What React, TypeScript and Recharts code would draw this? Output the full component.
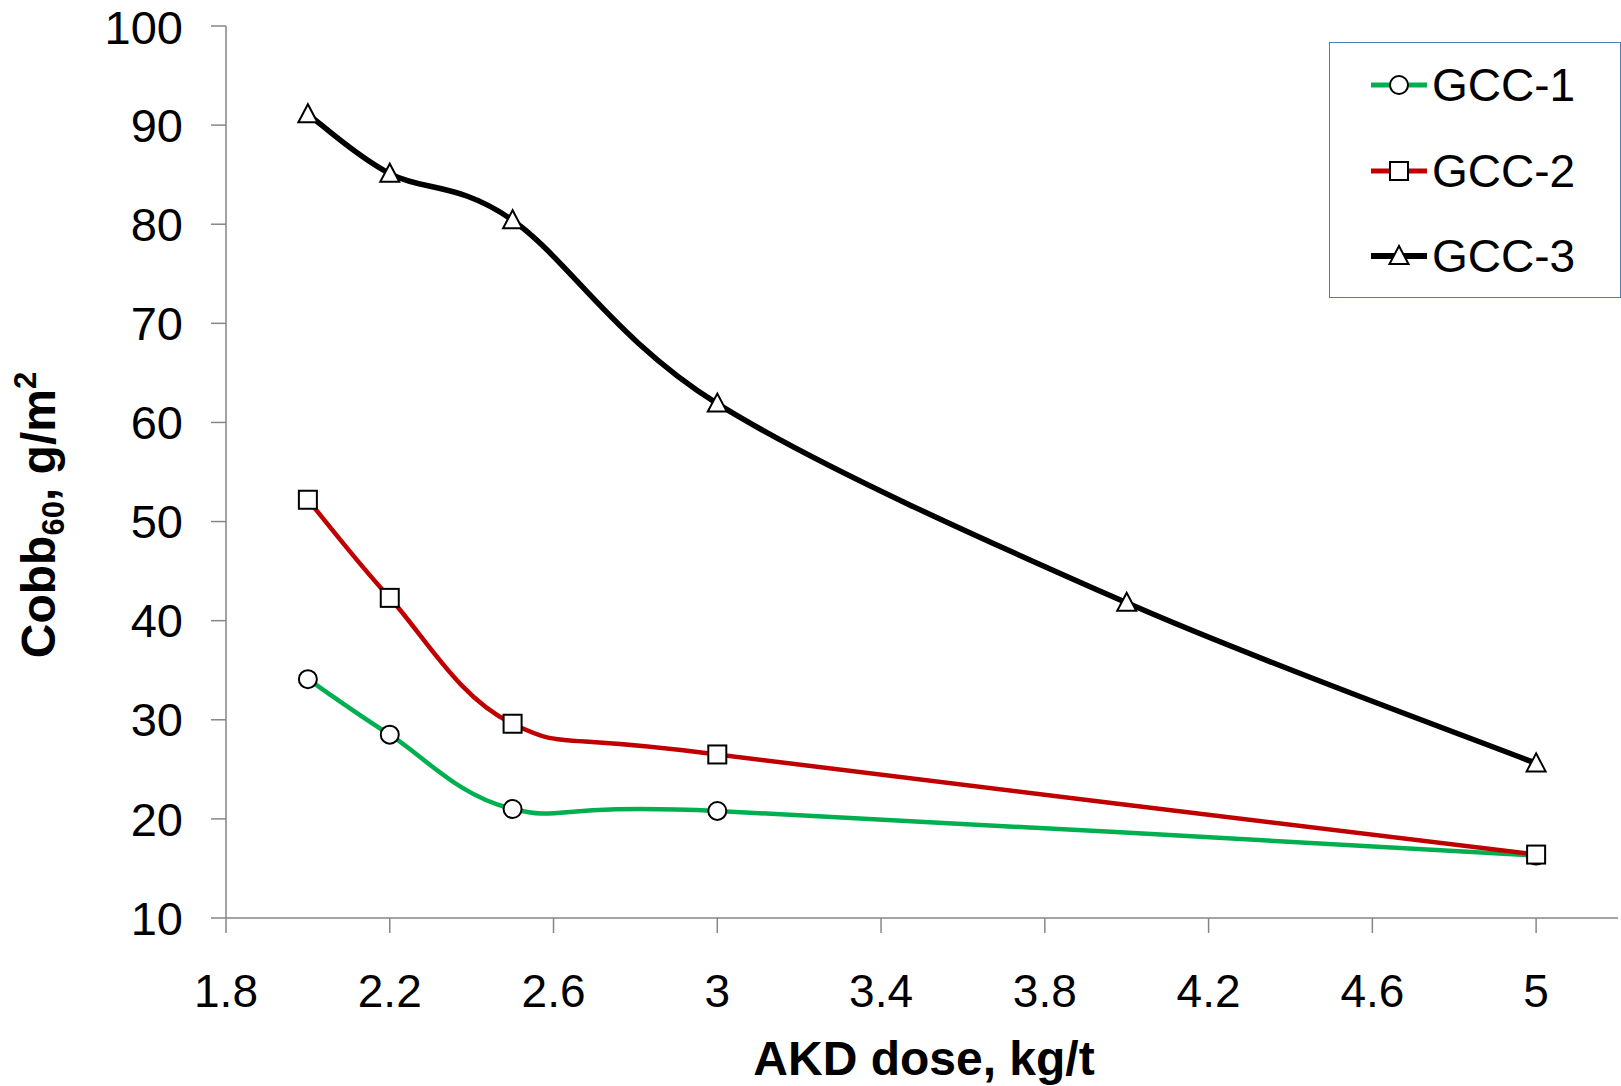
import React from "react";
import { LineChart, Line, XAxis, YAxis, Legend } from "recharts";

// values (Cobb60 vs AKD dose)
const gcc1Dose = [2, 2.2, 2.5, 3, 5];
const gcc1Cobb = [34.1, 28.5, 21.0, 20.8, 16.3];
const gcc2Dose = [2, 2.2, 2.5, 3, 5];
const gcc2Cobb = [52.2, 42.3, 29.6, 26.5, 16.4];
const gcc3Dose = [2, 2.2, 2.5, 3, 4, 5];
const gcc3Cobb = [91.1, 85.1, 80.4, 61.9, 41.8, 25.6];

const seriesNames = ["GCC-1", "GCC-2", "GCC-3"];
const xTicks = [1.8, 2.2, 2.6, 3, 3.4, 3.8, 4.2, 4.6, 5];
const yTicks = [10, 20, 30, 40, 50, 60, 70, 80, 90, 100];

const FONT = '"Liberation Sans", Arial, sans-serif';
const AXIS_GRAY = "#868686";

const toPoints = (xs: number[], ys: number[]) => xs.map((x, i) => ({ x, y: ys[i] }));

const series = [
  { name: seriesNames[0], data: toPoints(gcc1Dose, gcc1Cobb), color: "#00B050", width: 4.5, shape: "circle" },
  { name: seriesNames[1], data: toPoints(gcc2Dose, gcc2Cobb), color: "#C00000", width: 4.5, shape: "square" },
  { name: seriesNames[2], data: toPoints(gcc3Dose, gcc3Cobb), color: "#000000", width: 5.5, shape: "triangle" },
];

// Excel-style smoothed line (uniform Catmull-Rom as cubic beziers)
const excelSmooth = (context: any) => {
  let pts: number[][] = [];
  return {
    areaStart() {},
    areaEnd() {},
    lineStart() {
      pts = [];
    },
    lineEnd() {
      const n = pts.length;
      if (!n) return;
      context.moveTo(pts[0][0], pts[0][1]);
      for (let i = 0; i < n - 1; i++) {
        const p0 = pts[Math.max(i - 1, 0)];
        const p1 = pts[i];
        const p2 = pts[i + 1];
        const p3 = pts[Math.min(i + 2, n - 1)];
        context.bezierCurveTo(
          p1[0] + (p2[0] - p0[0]) / 6,
          p1[1] + (p2[1] - p0[1]) / 6,
          p2[0] - (p3[0] - p1[0]) / 6,
          p2[1] - (p3[1] - p1[1]) / 6,
          p2[0],
          p2[1]
        );
      }
    },
    point(x: number, y: number) {
      pts.push([+x, +y]);
    },
  };
};

const Marker = ({ shape, cx, cy }: { shape: string; cx: number; cy: number }) => {
  if (shape === "circle")
    return <circle cx={cx} cy={cy} r={9} fill="#fff" stroke="#000" strokeWidth={2} />;
  if (shape === "square")
    return <rect x={cx - 9} y={cy - 9} width={18} height={18} fill="#fff" stroke="#000" strokeWidth={2} />;
  return (
    <polygon
      points={`${cx},${cy - 10} ${cx - 9.5},${cy + 8} ${cx + 9.5},${cy + 8}`}
      fill="#fff"
      stroke="#000"
      strokeWidth={2}
    />
  );
};

const YTitle = () => (
  <text
    transform="translate(55, 515) rotate(-90)"
    textAnchor="middle"
    fontFamily={FONT}
    fontWeight="bold"
    fontSize={48}
    fill="#000"
  >
    Cobb
    <tspan fontSize={31} dy={9}>60</tspan>
    <tspan dy={-9}>, g/m</tspan>
    <tspan fontSize={31} dy={-19}>2</tspan>
  </text>
);

const XTitle = () => (
  <text x={924} y={1075} textAnchor="middle" fontFamily={FONT} fontWeight="bold" fontSize={48} fill="#000">
    AKD dose, kg/t
  </text>
);

const renderLegend = () => (
  <div
    style={{
      width: 292,
      height: 256,
      border: "1.5px solid #4A7EBB",
      boxSizing: "border-box",
      background: "#fff",
      position: "relative",
    }}
  >
    {series.map((s, i) => (
      <div
        key={s.name}
        style={{
          position: "absolute",
          left: 40,
          top: 42 + i * 85.5 - 25,
          height: 50,
          display: "flex",
          alignItems: "center",
        }}
      >
        <svg width={58} height={30}>
          <line x1={1} x2={57} y1={15} y2={15} stroke={s.color} strokeWidth={s.width + 0.5} />
          <Marker shape={s.shape} cx={29} cy={15} />
        </svg>
        <span style={{ fontFamily: FONT, fontSize: 46, marginLeft: 4, lineHeight: "50px", color: "#000" }}>
          {s.name}
        </span>
      </div>
    ))}
  </div>
);

export default function App() {
  return (
    <div style={{ position: "absolute", left: 0, top: 0, background: "#fff" }}>
      <LineChart width={1621} height={1086} margin={{ top: 26, right: 3, bottom: 0, left: 0 }}>
        <XAxis
          type="number"
          dataKey="x"
          domain={[1.8, 5.2]}
          ticks={xTicks}
          allowDataOverflow
          height={168}
          tickSize={15}
          tickMargin={41}
          tickFormatter={(v: number) => String(+v.toFixed(1))}
          stroke={AXIS_GRAY}
          strokeWidth={1.5}
          tick={{ fill: "#000", fontSize: 46, fontFamily: FONT }}
          label={<XTitle />}
        />
        <YAxis
          type="number"
          dataKey="y"
          domain={[10, 100]}
          ticks={yTicks}
          allowDataOverflow
          width={226}
          tickSize={15}
          tickMargin={28}
          stroke={AXIS_GRAY}
          strokeWidth={1.5}
          tick={{ fill: "#000", fontSize: 47, fontFamily: FONT }}
          label={<YTitle />}
        />
        <Legend
          layout="horizontal"
          verticalAlign="middle"
          align="center"
          content={renderLegend}
          wrapperStyle={{ left: 1329, top: 42, width: 292, height: 256 }}
        />
        {series.map((s) => (
          <Line
            key={s.name}
            name={s.name}
            data={s.data}
            dataKey="y"
            type={excelSmooth as any}
            stroke={s.color}
            strokeWidth={s.width}
            strokeLinecap="round"
            dot={(p: any) => <Marker key={`${s.name}-${p.index}`} shape={s.shape} cx={p.cx} cy={p.cy} />}
            activeDot={false}
            isAnimationActive={false}
          />
        ))}
      </LineChart>
    </div>
  );
}
